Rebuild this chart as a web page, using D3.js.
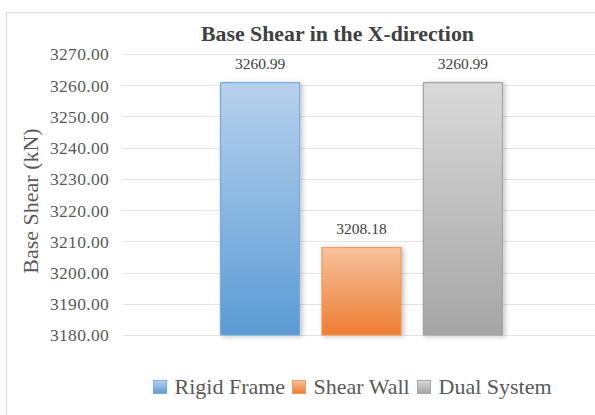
<!DOCTYPE html>
<html><head><meta charset="utf-8">
<script src="https://cdn.jsdelivr.net/npm/d3@7"></script>
<style>body{margin:0;background:#fff}svg{display:block}</style>
</head><body>
<svg id="c" width="595" height="415"></svg>
<script>
const categories = ["X-direction"];
const series = ["Rigid Frame", "Shear Wall", "Dual System"];
const values = [3260.99, 3208.18, 3260.99];
const valueLabels = ["3260.99", "3208.18", "3260.99"];
const yTicks = [3180, 3190, 3200, 3210, 3220, 3230, 3240, 3250, 3260, 3270];
const colorsTop = ["#b7d1ec", "#f6c29d", "#d9d9d9"];
const colorsBottom = ["#5b9bd5", "#ed7d31", "#a5a5a5"];
const strokes = ["#7aaadb", "#f09a5c", "#a3a3a3"];

const svg = d3.select("#c");
const font = "'Liberation Serif','Times New Roman',serif";

// frame
svg.append("rect").attr("x", 6.5).attr("y", 12.5).attr("width", 620).attr("height", 420)
  .attr("fill", "#fff").attr("stroke", "#d9d9d9").attr("stroke-width", 1);

const y = d3.scaleLinear().domain([3180, 3270]).range([335, 54]);
const x0 = d3.scaleBand().domain(categories).range([123, 601]);
const x1 = d3.scaleBand().domain(series).range([220, 503]).paddingInner(0.21).paddingOuter(0);

const defs = svg.append("defs");
series.forEach((s, i) => {
  const g = defs.append("linearGradient").attr("id", "g" + i).attr("x1", 0).attr("x2", 0).attr("y1", 0).attr("y2", 1);
  g.append("stop").attr("offset", "0%").attr("stop-color", colorsTop[i]);
  g.append("stop").attr("offset", "100%").attr("stop-color", colorsBottom[i]);
});
const f = defs.append("filter").attr("id", "sh").attr("x", "-20%").attr("y", "-20%").attr("width", "150%").attr("height", "140%");
f.append("feGaussianBlur").attr("in", "SourceAlpha").attr("stdDeviation", 2.5).attr("result", "b");
f.append("feOffset").attr("in", "b").attr("dx", 2).attr("dy", 1).attr("result", "o");
f.append("feComponentTransfer").attr("in", "o").attr("result", "o2")
  .append("feFuncA").attr("type", "linear").attr("slope", 0.25);
const m = f.append("feMerge");
m.append("feMergeNode").attr("in", "o2");
m.append("feMergeNode").attr("in", "SourceGraphic");

// grid
svg.append("g").selectAll("line").data(yTicks).join("line")
  .attr("x1", 123).attr("x2", 595)
  .attr("y1", d => Math.round(y(d)) + 0.5).attr("y2", d => Math.round(y(d)) + 0.5)
  .attr("stroke", "#e3e3e3").attr("stroke-width", 1);

// y axis labels
const yAxis = d3.axisLeft(y).tickValues(yTicks).tickFormat(d3.format(".2f")).tickSize(0).tickPadding(0);
const ya = svg.append("g").attr("transform", "translate(109,0)").call(yAxis);
ya.select(".domain").remove();
ya.attr("font-family", null).attr("font-size", null);
ya.selectAll("text").style("font-family", font).style("font-size", "17.5px").attr("fill", "#595959")
  .attr("letter-spacing", 0.3).attr("dy", "0.34em");

// bars
const grp = svg.append("g").attr("transform", `translate(${x0(categories[0]) - 123},0)`);
grp.selectAll("rect").data(values).join("rect")
  .attr("x", (d, i) => x1(series[i]) + 0.5)
  .attr("y", d => y(d) + 0.5)
  .attr("width", x1.bandwidth() - 1)
  .attr("height", d => y(3180) - y(d) - 0.5)
  .attr("fill", (d, i) => `url(#g${i})`)
  .attr("stroke", (d, i) => strokes[i]).attr("stroke-width", 1.2)
  .attr("filter", "url(#sh)");

grp.selectAll("text.v").data(values).join("text").attr("class", "v")
  .attr("x", (d, i) => x1(series[i]) + x1.bandwidth() / 2)
  .attr("y", d => y(d) - 13)
  .attr("text-anchor", "middle").style("font-family", font).style("font-size", "15.5px")
  .attr("fill", "#404040").text((d, i) => valueLabels[i]);

// title
svg.append("text").attr("x", 337.5).attr("y", 41).attr("text-anchor", "middle")
  .style("font-family", font).attr("font-weight", "bold").style("font-size", "21.8px")
  .attr("fill", "#404040").text("Base Shear in the X-direction");

// y title
svg.append("text").attr("transform", "translate(38,201) rotate(-90)").attr("text-anchor", "middle")
  .style("font-family", font).style("font-size", "22px").attr("fill", "#595959").text("Base Shear (kN)");

// legend
const legX = [153, 292, 417];
const lg = svg.append("g");
series.forEach((s, i) => {
  lg.append("rect").attr("x", legX[i] + 0.5).attr("y", 380.5).attr("width", 13).attr("height", 13)
    .attr("fill", `url(#g${i})`).attr("stroke", strokes[i]);
  lg.append("text").attr("x", legX[i] + 21.5).attr("y", 394).style("font-family", font)
    .style("font-size", "22px").attr("fill", "#595959").text(s);
});
</script>
</body></html>
